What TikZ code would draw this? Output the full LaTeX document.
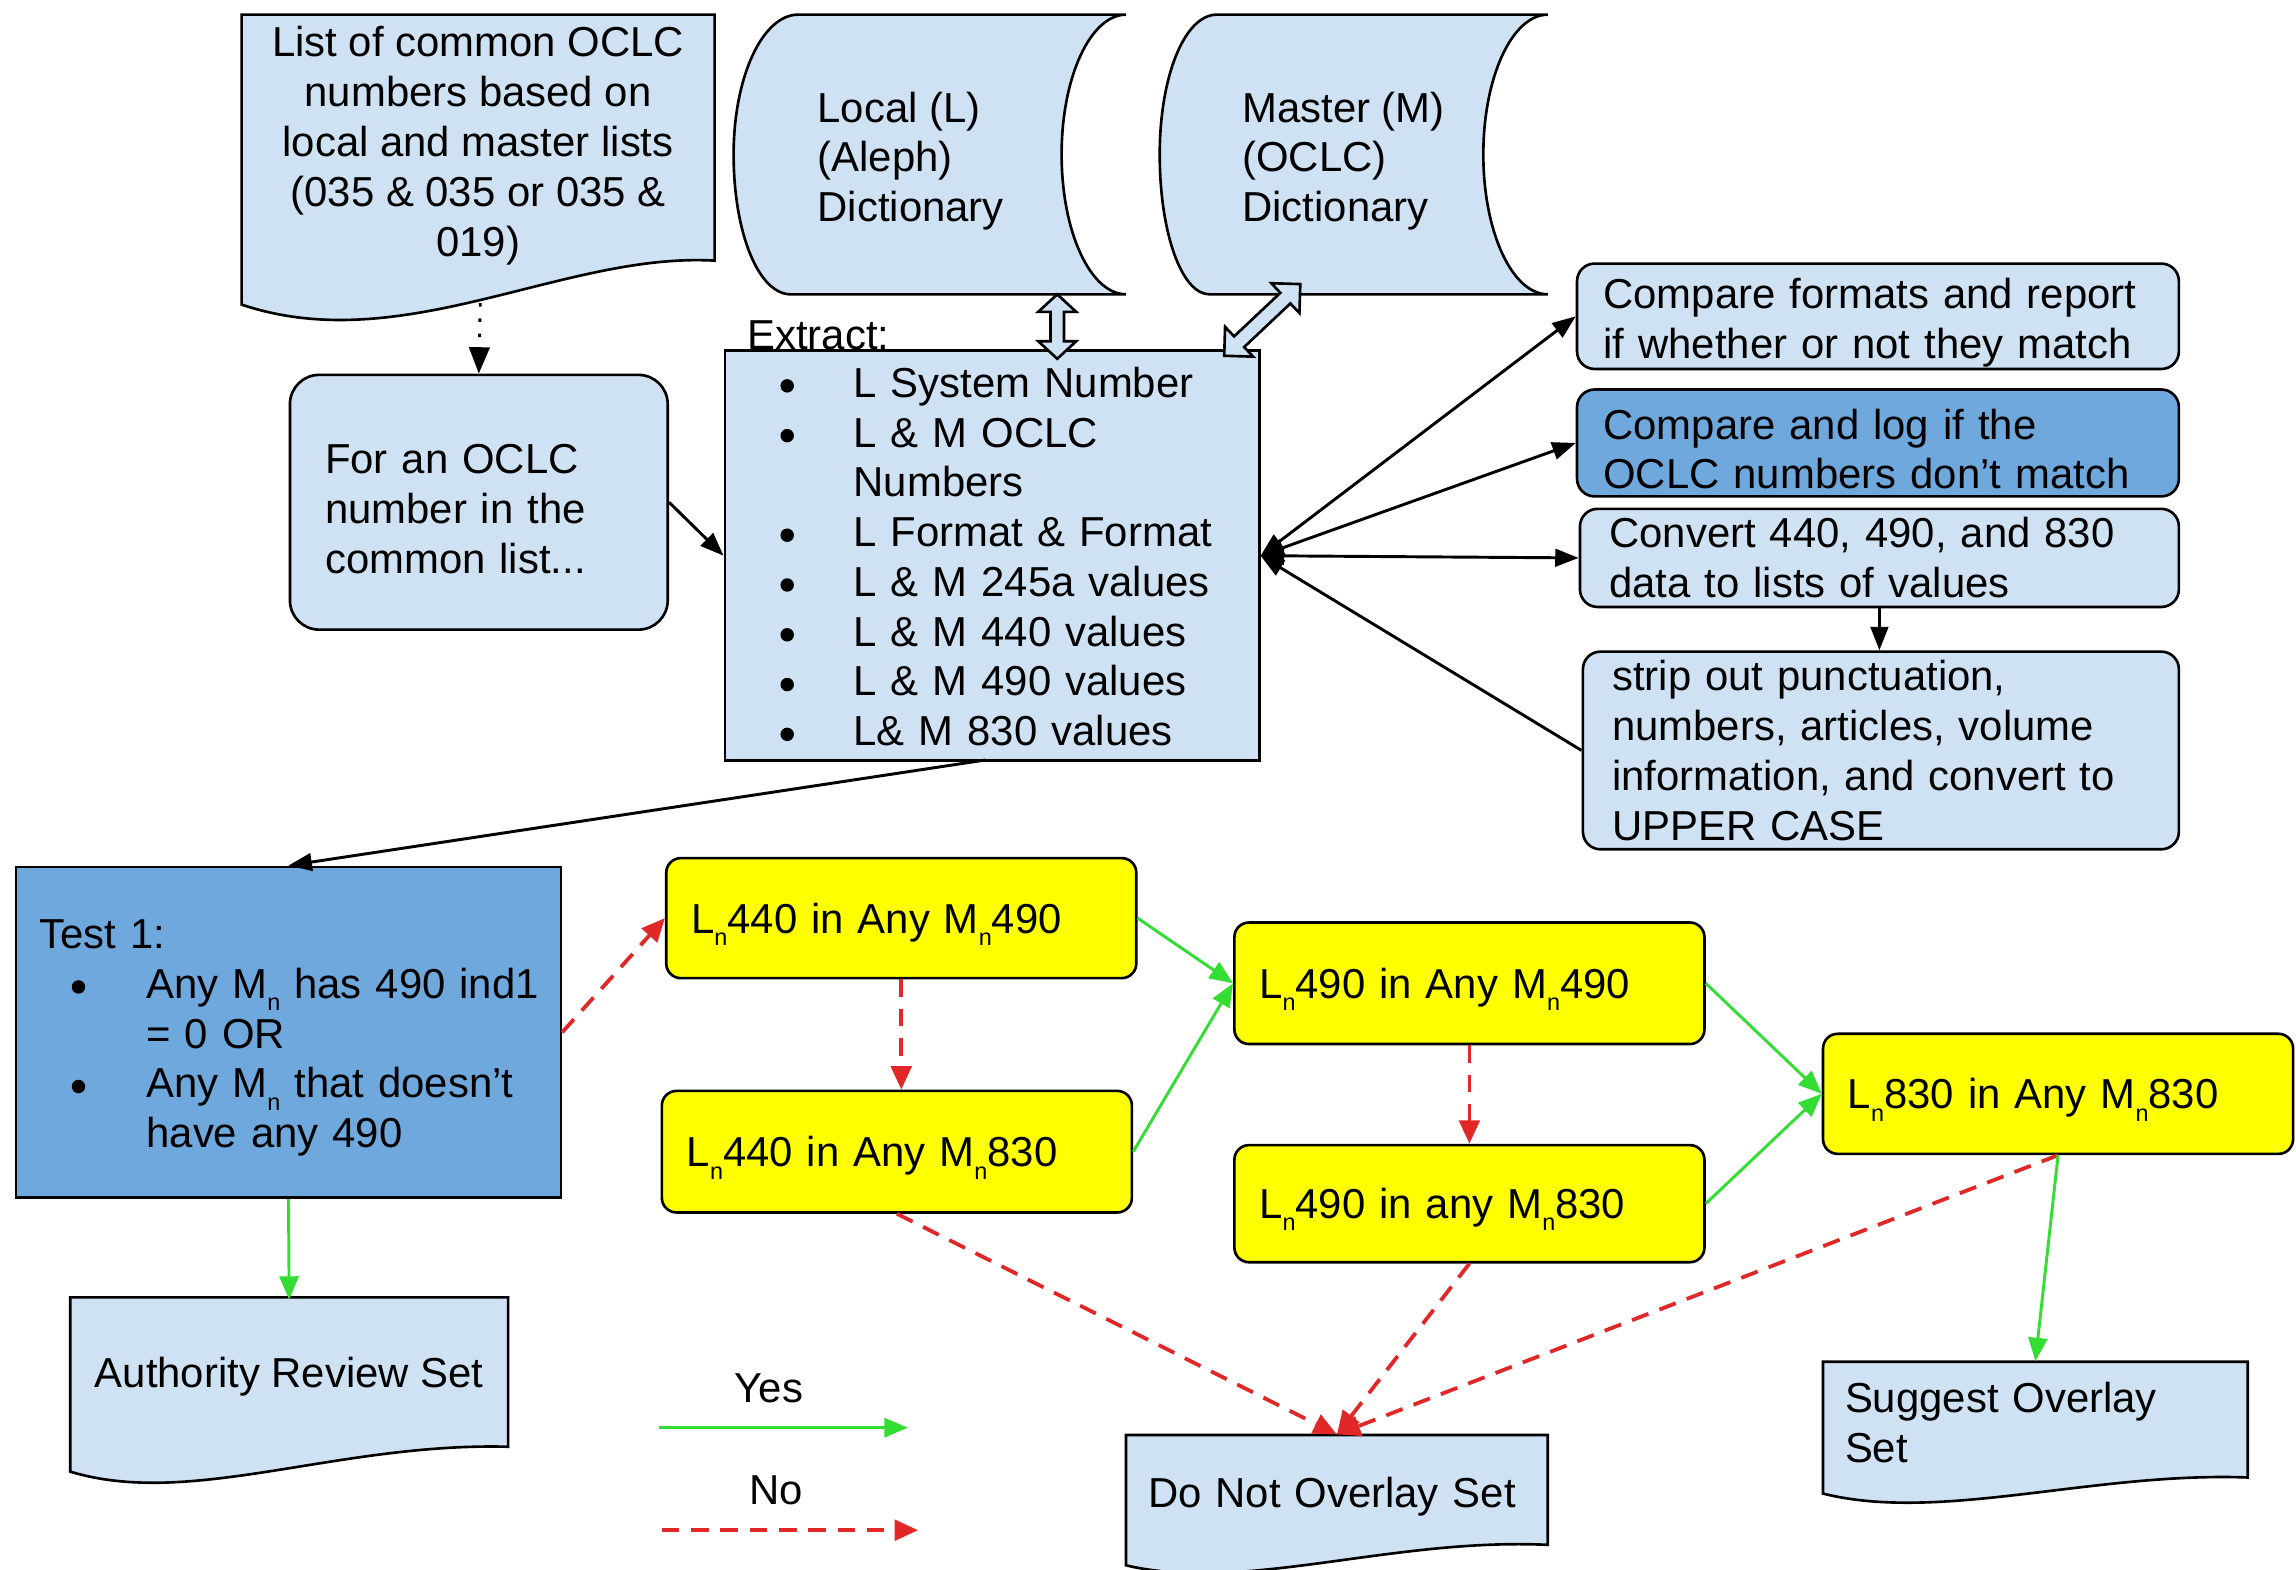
\documentclass[tikz,border=0pt]{standalone}
\usepackage{fontspec}
\setmainfont{Liberation Sans}
\usetikzlibrary{arrows.meta,calc}
\definecolor{lblue}{HTML}{CFE2F3}
\definecolor{mblue}{HTML}{6FA8DC}
\definecolor{yel}{HTML}{FFFF00}
\definecolor{grn}{HTML}{33DD33}
\definecolor{rd}{HTML}{E02828}
\newcommand\lsub[1]{\raisebox{-0.55ex}{\fontsize{8}{8}\selectfont #1}}
\newcommand\bul{\tikz[baseline=0pt]\fill (0pt,3.9pt) circle[radius=2.3pt];}
\newcommand\tpr{\rule{0pt}{14.5pt}}
\begin{document}
\begin{tikzpicture}[x=0.5pt,y=-0.5pt,font=\fontsize{14.3}{17}\selectfont,
  dn/.style={execute at begin node={\tpr}},
  shp/.style={draw=black,line width=0.9pt,fill=lblue},
  rboxp/.style={draw=black,line width=0.9pt,fill=lblue,rounded corners=6pt,align=left,inner ysep=0pt},
  rbox/.style={rboxp,dn},
  sbox/.style={draw=black,line width=0.9pt,fill=lblue,align=left,inner ysep=0pt},
  ybox/.style={dn,draw=black,line width=0.9pt,fill=yel,rounded corners=5pt,align=left,inner ysep=0pt,inner xsep=8.5pt,text width=143.5pt,minimum width=160.5pt,minimum height=41pt},
  docn/.style={inner ysep=0pt,align=left},
  blk/.style={-{Triangle[length=8pt,width=6pt]},line width=1pt},
  blk2/.style={{Triangle[length=8pt,width=6pt]}-{Triangle[length=8pt,width=6pt]},line width=1pt},
  yes/.style={draw=grn,line width=1pt,-{Triangle[length=8pt,width=6.5pt]}},
  no/.style={draw=rd,line width=1.3pt,dash pattern=on 6pt off 4pt,-{Triangle[length=8pt,width=7pt]}},
  fat/.style={draw=black,line width=0.9pt,fill=lblue,line join=miter}]
\useasboundingbox (0,0) rectangle (1568,1072);

% ---------- document shapes ----------
\draw[shp] (165,10) -- (488,10) -- (488,178) .. controls (385,172) and (275,245) .. (165,208) -- cycle;
\draw[shp] (48,886) -- (347,886) -- (347,988) .. controls (230,985) and (130,1030) .. (48,1005) -- cycle;
\draw[shp] (769,980) -- (1057,980) -- (1057,1055) .. controls (950,1050) and (850,1088) .. (769,1069) -- cycle;
\draw[shp] (1245,930) -- (1535,930) -- (1535,1009) .. controls (1430,1005) and (1325,1040) .. (1245,1020) -- cycle;

% ---------- stored data shapes ----------
\draw[shp] (545,10) -- (769,10) .. controls (745,10) and (725,52) .. (725,105.5)
  .. controls (725,159) and (745,201) .. (769,201) -- (540,201)
  .. controls (518,201) and (501,159) .. (501,105.5)
  .. controls (501,52) and (521,10) .. (545,10) -- cycle;
\draw[shp] (831,10) -- (1057,10) .. controls (1033,10) and (1013,52) .. (1013,105.5)
  .. controls (1013,159) and (1033,201) .. (1057,201) -- (826,201)
  .. controls (807,201) and (792,159) .. (792,105.5)
  .. controls (792,52) and (809,10) .. (831,10) -- cycle;

% ---------- text of shapes ----------
\node[align=center,inner sep=0pt] (list) at (326.5,99.5) {List of common OCLC\\numbers based on\\local and master lists\\(035 \& 035 or 035 \&\\019)};
\node[align=left,inner sep=0pt,anchor=west] (local) at (558,110) {Local (L)\\(Aleph)\\Dictionary};
\node[align=left,inner sep=0pt,anchor=west] (master) at (848,110) {Master (M)\\(OCLC)\\Dictionary};
\node[docn,inner xsep=0pt,minimum width=149.5pt,minimum height=52pt,align=center] (auth) at (197.5,940) {Authority Review Set};
\node[docn,dn,inner xsep=7.5pt,text width=129pt,minimum height=38pt] (dno) at (913,1018) {Do Not Overlay Set};
\node[docn,inner xsep=7.5pt,text width=130pt,minimum height=41.5pt] (sug) at (1390,971.5) {Suggest Overlay\\Set};

% ---------- boxes ----------
\node[rbox,rounded corners=10pt,inner xsep=12pt,text width=105pt,minimum height=87pt] (fo) at (327,343) {For an OCLC\\number in the\\common list...};
\node[sbox,inner xsep=19pt,text width=144.5pt,minimum height=139.5pt] (ext) at (677.5,379.5) {%
\begin{tabular}{@{}p{25pt}@{}l@{}}
\rule{0pt}{15.9pt}\bul & L System Number\\
\bul & L \& M OCLC\\
 & Numbers\\
\bul & L Format \& Format\\
\bul & L \& M 245a values\\
\bul & L \& M 440 values\\
\bul & L \& M 490 values\\
\bul & L\& M 830 values
\end{tabular}};
\node[inner sep=0pt,anchor=west] (extl) at (510,229) {Extract:};

\node[rbox,inner xsep=9pt,text width=187.5pt,minimum height=36pt] (fmt) at (1282.5,216) {Compare formats and report\\if whether or not they match};
\node[rbox,fill=mblue,inner xsep=9pt,text width=187.5pt,minimum height=36.5pt] (log) at (1282.5,302.5) {Compare and log if the\\OCLC numbers don't match};
\node[rboxp,inner xsep=10pt,text width=184.5pt,minimum height=33.5pt] (conv) at (1283.5,381) {Convert 440, 490, and 830\\data to lists of values};
\node[rboxp,inner xsep=10pt,text width=183.5pt,minimum height=67.5pt] (strip) at (1284.5,512.5) {strip out punctuation,\\numbers, articles, volume\\information, and convert to\\UPPER CASE};

\node[sbox,fill=mblue,inner xsep=8pt,text width=170pt,minimum height=113pt] (test) at (197,705) {%
\begin{tabular}{@{}p{36.5pt}@{}l@{}}
\multicolumn{2}{@{}l@{}}{\rule{0pt}{15.9pt}Test 1:}\\
\hspace*{11pt}\bul & Any M\lsub{n} has 490 ind1\\
 & = 0 OR\\
\hspace*{11pt}\bul & Any M\lsub{n} that doesn't\\
 & have any 490
\end{tabular}};

\node[ybox] (A) at (615.5,627) {L\lsub{n}440 in Any M\lsub{n}490};
\node[ybox,minimum height=41.5pt] (B) at (612.5,786.5) {L\lsub{n}440 in Any M\lsub{n}830};
\node[ybox,minimum height=41.5pt] (C) at (1003.5,671.5) {L\lsub{n}490 in Any M\lsub{n}490};
\node[ybox,minimum height=40pt] (D) at (1003.5,822) {L\lsub{n}490 in any M\lsub{n}830};
\node[ybox] (E) at (1405.5,747) {L\lsub{n}830 in Any M\lsub{n}830};

% ---------- fat double arrows ----------
\coordinate (dA1) at (722,201);
\coordinate (dB1) at (888,194);
\begin{scope}[shift={(dA1)},rotate=-90]
\draw[fat] (0pt,0pt)--(6pt,6.5pt)--(6pt,2.3pt)--(16pt,2.3pt)--(16pt,6.5pt)--(22pt,0pt)--(16pt,-6.5pt)--(16pt,-2.3pt)--(6pt,-2.3pt)--(6pt,-6.5pt)--cycle;
\end{scope}
\begin{scope}[shift={(dB1)},rotate=-136.7]
\draw[fat] (0pt,0pt)--(7pt,7pt)--(7pt,2.5pt)--(28.7pt,2.5pt)--(28.7pt,7pt)--(35.7pt,0pt)--(28.7pt,-7pt)--(28.7pt,-2.5pt)--(7pt,-2.5pt)--(7pt,-7pt)--cycle;
\end{scope}

% ---------- connectors ----------
\coordinate (ldb) at (328,207);
\draw[line width=1pt,dash pattern=on 1.2pt off 4pt,-{Triangle[length=9pt,width=7pt]}] (ldb) -- (fo.north);
\draw[blk] (fo.east) -- (ext.west);
\draw[blk2] (ext.east) -- (fmt.west);
\draw[blk2] (ext.east) -- (log.west);
\draw[blk2] (ext.east) -- (conv.west);
\draw[blk] (strip.west) -- (ext.east);
\draw[blk] (conv.south) -- (conv.south |- strip.north);
\coordinate (exb) at (673,519);
\draw[blk] (exb) -- (test.north);

\draw[yes] (test.south) -- (auth.north);
\draw[no] (test.east) -- (A.west);
\draw[no] (A.south) -- (A.south |- B.north);
\draw[yes] (A.east) -- (C.west);
\draw[yes] (B.east) -- (C.west);
\draw[no] (C.south) -- (C.south |- D.north);
\draw[yes] (C.east) -- (E.west);
\draw[yes] (D.east) -- (E.west);
\draw[no] (B.south) -- (dno.north);
\draw[no] (D.south) -- (dno.north);
\draw[no] (E.south) -- (dno.north);
\draw[yes] (E.south) -- (sug.north);

% ---------- legend ----------
\node (yeslbl) at (525,948) {Yes};
\coordinate (ys) at (450,975);
\coordinate (ye) at (620,975);
\draw[yes] (ys) -- (ye);
\node (nolbl) at (530,1018) {No};
\coordinate (ns) at (452,1045);
\coordinate (ne) at (627,1045);
\draw[no] (ns) -- (ne);
\end{tikzpicture}
\end{document}
